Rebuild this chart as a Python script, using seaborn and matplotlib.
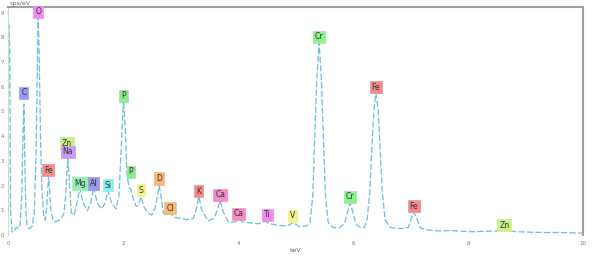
import matplotlib
matplotlib.use("Agg")
import matplotlib.pyplot as plt
import seaborn as sns
import pandas as pd

# spectrum (keV, cps/eV)
energy_kev = [
    0.00, 0.012, 0.03, 0.045, 0.07, 0.10, 0.15, 0.18, 0.21,
    0.24, 0.26, 0.277, 0.29, 0.31, 0.33, 0.37, 0.42,
    0.46, 0.49, 0.51, 0.525, 0.545, 0.565, 0.59, 0.62,
    0.65, 0.68, 0.705, 0.725, 0.75, 0.79, 0.85, 0.92, 0.97,
    1.00, 1.04, 1.07, 1.10, 1.15, 1.20, 1.25, 1.30, 1.38, 1.44, 1.49, 1.55, 1.63, 1.69, 1.74, 1.80, 1.88,
    1.93, 1.97, 2.01, 2.04, 2.07, 2.11, 2.14, 2.18, 2.23, 2.27, 2.31, 2.36, 2.43, 2.50,
    2.56, 2.60, 2.63, 2.66, 2.70, 2.76, 2.82, 2.88, 2.99, 3.10, 3.22,
    3.27, 3.32, 3.37, 3.48, 3.58, 3.64, 3.69, 3.74, 3.83, 3.95, 4.02, 4.09, 4.21, 4.35, 4.47,
    4.56, 4.68, 4.85, 4.96, 5.08, 5.18,
    5.25, 5.30, 5.34, 5.37, 5.41, 5.45, 5.48, 5.52, 5.57, 5.65, 5.75, 5.85, 5.90, 5.95, 6.00,
    6.05, 6.12, 6.20,
    6.25, 6.29, 6.33, 6.36, 6.40, 6.44, 6.47, 6.51, 6.56, 6.65, 6.80, 6.96, 7.01, 7.06, 7.11, 7.17,
    7.30, 7.50, 7.70, 7.90, 8.10, 8.30, 8.50, 8.58, 8.63, 8.68, 8.80, 9.00, 9.30, 9.60, 9.90, 10.0,
]
cps_per_ev = [
    0.0, 8.6, 7.6, 1.0, 0.12, 0.15, 0.32, 0.25, 0.4,
    1.6, 4.0, 5.3, 3.4, 1.1, 0.4, 0.25, 0.35,
    1.0, 3.5, 6.8, 9.0, 7.0, 4.0, 1.8, 0.8,
    0.6, 1.3, 2.4, 1.8, 0.9, 0.55, 0.55, 0.65, 0.85,
    1.5, 3.1, 2.1, 0.9, 0.8, 1.3, 1.9, 1.35, 0.97, 1.3, 1.95, 1.3, 1.05, 1.3, 1.8, 1.3, 1.05,
    1.6, 3.6, 5.5, 4.3, 2.4, 1.9, 1.85, 1.45, 1.15, 1.2, 1.55, 1.15, 0.9, 0.8,
    1.1, 1.6, 2.0, 1.6, 0.9, 0.8, 0.88, 0.72, 0.68, 0.62, 0.66,
    1.0, 1.55, 1.0, 0.57, 0.68, 1.0, 1.4, 0.95, 0.53, 0.52, 0.62, 0.52, 0.49, 0.45, 0.55,
    0.45, 0.4, 0.36, 0.5, 0.33, 0.36,
    0.45, 1.6, 4.3, 6.3, 7.8, 6.3, 4.3, 1.6, 0.5, 0.3, 0.28, 0.45, 0.9, 1.3, 0.9,
    0.45, 0.3, 0.3,
    0.7, 1.7, 3.6, 5.0, 5.75, 5.0, 3.6, 1.7, 0.6, 0.3, 0.25, 0.3, 0.65, 0.93, 0.65, 0.28,
    0.2, 0.16, 0.18, 0.15, 0.13, 0.15, 0.16, 0.22, 0.28, 0.2, 0.14, 0.12, 0.1, 0.1, 0.08, 0.08,
]

# peak labels
label_text = ["O", "C", "P", "Zn", "Na", "Fe", "Mg", "Al", "Si", "P", "S", "D", "Cl",
              "K", "Ca", "Ca", "Ti", "V", "Cr", "Cr", "Fe", "Fe", "Zn"]
label_kev = [0.525, 0.277, 2.01, 1.02, 1.04, 0.70, 1.25, 1.49, 1.74, 2.14, 2.31, 2.63, 2.82,
             3.31, 3.69, 4.01, 4.51, 4.95, 5.41, 5.95, 6.40, 7.06, 8.63]
label_y = [9.03, 5.75, 5.63, 3.72, 3.36, 2.63, 2.10, 2.10, 2.02, 2.55, 1.82, 2.27, 1.09,
           1.78, 1.62, 0.85, 0.81, 0.77, 8.02, 1.54, 5.99, 1.17, 0.40]
label_color = ["#f08cf0", "#9a9af5", "#8ee88e", "#c8f08a", "#c99af2", "#f28c8c", "#94f0b4",
               "#9a96f2", "#8aeef2", "#8ee88e", "#f2f28a", "#f7b87a", "#f7b87a",
               "#f28c8c", "#f28cc8", "#f28cc8", "#f28cf0", "#f2f28a", "#8ef08e", "#8ef08e",
               "#f28c8c", "#f28c8c", "#c8f08a"]

df = pd.DataFrame({"energy": energy_kev, "cps": cps_per_ev})

sns.set_style("white")
fig = plt.figure(figsize=(6, 2.71), dpi=100)
ax = fig.add_axes([0.0133, 0.133, 0.9584, 0.841])

sns.lineplot(data=df, x="energy", y="cps", ax=ax, color="#6fbde0",
             linewidth=0.9, linestyle=(0, (5, 1.8)), sort=False)

for s, x, y, c in zip(label_text, label_kev, label_y, label_color):
    ax.text(x, y, s, ha="center", va="center", fontsize=5.5, color="#333333",
            bbox=dict(boxstyle="square,pad=0.25", fc=c, ec=c, lw=0.5))

ax.set_xlim(0, 10)
ax.set_ylim(0, 9.23)
ax.set_xticks(range(0, 11, 2))
ax.set_xticks([x / 2 for x in range(21)], minor=True)
ax.set_yticks(range(0, 10))
ax.set_yticks([y / 5 for y in range(46)], minor=True)
ax.tick_params(axis="both", which="major", labelsize=4, colors="#777777", length=2, width=0.5)
ax.tick_params(axis="both", which="minor", colors="#aaaaaa", length=1, width=0.4)
ax.tick_params(axis="x", pad=2)
ax.tick_params(axis="y", pad=1)
ax.set_xlabel("keV", fontsize=4.5, color="#666666", labelpad=2)
ax.set_ylabel("")
ax.text(0.003, 1.004, "cps/eV", transform=ax.transAxes, fontsize=4.5, color="#666666",
        va="bottom", ha="left")

for side in ["top", "right"]:
    ax.spines[side].set_color("#a0a0a0")
    ax.spines[side].set_linewidth(1.5)
ax.spines["left"].set_color("#c6e3bd")
ax.spines["left"].set_linewidth(0.8)
ax.spines["bottom"].set_visible(False)

fig.savefig("out.png", dpi=100)
